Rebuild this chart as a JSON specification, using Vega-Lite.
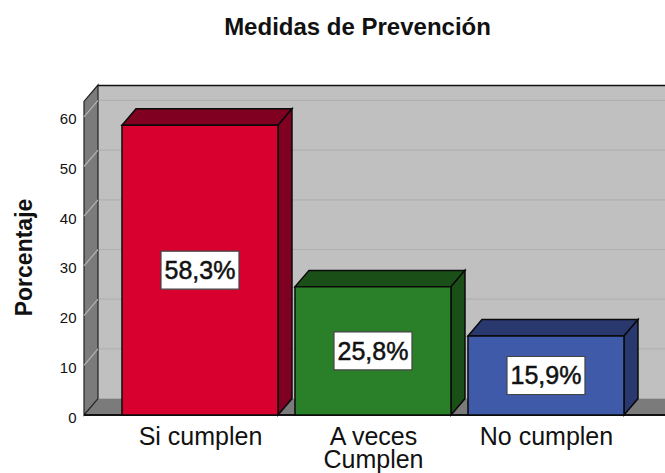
{
"$schema":"https://vega.github.io/schema/vega-lite/v6.json",
"width":581,"height":330,
"autosize":{"type":"none"},
"padding":{"left":84,"top":85,"right":0,"bottom":58},
"background":"white",
"title":{"text":"Medidas de Prevención","font":"Liberation Sans","fontSize":24,"fontWeight":"bold","color":"#111111","anchor":"middle","dx":-17,"offset":43},
"config":{"view":{"stroke":null}},
"datasets":{
"bars":[
{"categoria":"Si cumplen","pos":1,"x0":0.5491,"x1":1.4509,"porcentaje":58.3,"etiqueta":"58,3%","mitad":29.15},
{"categoria":"A veces Cumplen","pos":2,"x0":1.5491,"x1":2.4509,"porcentaje":25.8,"etiqueta":"25,8%","mitad":12.9},
{"categoria":"No cumplen","pos":3,"x0":2.5491,"x1":3.4509,"porcentaje":15.9,"etiqueta":"15,9%","mitad":7.95}
],
"caras":[
{"cara":"Si cumplen top","x":0.5491,"lo":58.3,"hi":58.3},
{"cara":"Si cumplen top","x":0.63,"lo":58.3,"hi":61.6},
{"cara":"Si cumplen top","x":1.4509,"lo":58.3,"hi":61.6},
{"cara":"Si cumplen top","x":1.5318,"lo":61.6,"hi":61.6},
{"cara":"Si cumplen side","x":1.4509,"lo":0,"hi":58.3},
{"cara":"Si cumplen side","x":1.5318,"lo":3.3,"hi":61.6},
{"cara":"A veces top","x":1.5491,"lo":25.8,"hi":25.8},
{"cara":"A veces top","x":1.63,"lo":25.8,"hi":29.1},
{"cara":"A veces top","x":2.4509,"lo":25.8,"hi":29.1},
{"cara":"A veces top","x":2.5318,"lo":29.1,"hi":29.1},
{"cara":"A veces side","x":2.4509,"lo":0,"hi":25.8},
{"cara":"A veces side","x":2.5318,"lo":3.3,"hi":29.1},
{"cara":"No cumplen top","x":2.5491,"lo":15.9,"hi":15.9},
{"cara":"No cumplen top","x":2.63,"lo":15.9,"hi":19.2},
{"cara":"No cumplen top","x":3.4509,"lo":15.9,"hi":19.2},
{"cara":"No cumplen top","x":3.5318,"lo":19.2,"hi":19.2},
{"cara":"No cumplen side","x":3.4509,"lo":0,"hi":15.9},
{"cara":"No cumplen side","x":3.5318,"lo":3.3,"hi":19.2}
],
"grid":[
{"g":10,"fondo":13.3},{"g":20,"fondo":23.3},{"g":30,"fondo":33.3},{"g":40,"fondo":43.3},{"g":50,"fondo":53.3},{"g":60,"fondo":63.3}
],
"diag":[
{"g":10,"x":0.3295,"y":10},{"g":10,"x":0.4104,"y":13.3},
{"g":20,"x":0.3295,"y":20},{"g":20,"x":0.4104,"y":23.3},
{"g":30,"x":0.3295,"y":30},{"g":30,"x":0.4104,"y":33.3},
{"g":40,"x":0.3295,"y":40},{"g":40,"x":0.4104,"y":43.3},
{"g":50,"x":0.3295,"y":50},{"g":50,"x":0.4104,"y":53.3},
{"g":60,"x":0.3295,"y":60},{"g":60,"x":0.4104,"y":63.3}
],
"pared":[{"x":0.3295,"lo":0,"hi":63.1},{"x":0.4104,"lo":3.3,"hi":66.4}],
"suelo":[{"x":0.3295,"lo":0,"hi":0},{"x":0.4104,"lo":0,"hi":3.3},{"x":3.688,"lo":0,"hi":3.3}],
"fondo":[{"x":0.4104,"x2":3.688,"lo":3.3,"hi":66.4}]
},
"layer":[
{"data":{"name":"fondo"},"mark":{"type":"rect","fill":"#c0c0c0"},
 "encoding":{
  "x":{"field":"x","type":"quantitative","scale":{"domain":[0.3295,3.688],"nice":false,"zero":false},
   "axis":{"title":null,"values":[1,2,3],"grid":false,"domain":false,"ticks":false,"labelPadding":9,"labelFont":"Liberation Sans","labelFontSize":25,"labelColor":"#111111","labelLineHeight":23,"labelBaseline":"top","labelFlush":false,"labelOverlap":false,
    "labelExpr":"datum.value==1?'Si cumplen':datum.value==2?['A veces','Cumplen']:'No cumplen'"}},
  "x2":{"field":"x2"},
  "y":{"field":"lo","type":"quantitative","scale":{"domain":[0,66.4],"nice":false},
   "axis":{"title":"Porcentaje","values":[0,10,20,30,40,50,60],"grid":false,"domain":false,"ticks":false,"labelPadding":8,"labelOffset":2,"labelFont":"Liberation Sans","labelFontSize":15,"labelColor":"#111111","titleFont":"Liberation Sans","titleFontSize":23,"titleFontWeight":"bold","titleColor":"#111111","titleX":-48,"titleY":172}},
  "y2":{"field":"hi"}}},
{"data":{"name":"grid"},"mark":{"type":"rule","stroke":"#b0b0b0","strokeWidth":1.2},
 "encoding":{"y":{"field":"fondo","type":"quantitative"},"x":{"datum":0.4104},"x2":{"datum":3.688}}},
{"data":{"name":"suelo"},"mark":{"type":"area","fill":"#7b7b7b"},
 "encoding":{"x":{"field":"x","type":"quantitative"},"y":{"field":"lo","type":"quantitative","stack":null},"y2":{"field":"hi"}}},
{"data":{"name":"pared"},"mark":{"type":"area","fill":"#7b7b7b","stroke":"#222222","strokeWidth":1.2},
 "encoding":{"x":{"field":"x","type":"quantitative"},"y":{"field":"lo","type":"quantitative","stack":null},"y2":{"field":"hi"}}},
{"data":{"name":"diag"},"mark":{"type":"line","stroke":"#b4b4b4","strokeWidth":1.2},
 "encoding":{"x":{"field":"x","type":"quantitative"},"y":{"field":"y","type":"quantitative"},"detail":{"field":"g"}}},
{"data":{"name":"grid"},"transform":[{"filter":"datum.g==60"}],"mark":{"type":"rule","stroke":"#111111","strokeWidth":1.5},
 "encoding":{"y":{"datum":66.3},"x":{"datum":0.4104},"x2":{"datum":3.688}}},
{"data":{"name":"grid"},"transform":[{"filter":"datum.g==60"}],"mark":{"type":"rule","stroke":"#111111","strokeWidth":2},
 "encoding":{"y":{"datum":0},"x":{"datum":0.3295},"x2":{"datum":3.688}}},
{"data":{"name":"caras"},"mark":{"type":"area","stroke":"#0a0a0a","strokeWidth":1.5},
 "encoding":{"x":{"field":"x","type":"quantitative"},"y":{"field":"lo","type":"quantitative","stack":null},"y2":{"field":"hi"},
  "fill":{"field":"cara","type":"nominal","legend":null,"scale":{"domain":["Si cumplen top","Si cumplen side","A veces top","A veces side","No cumplen top","No cumplen side"],"range":["#7f0020","#7f0020","#1a5018","#1a5018","#29386f","#29386f"]}}}},
{"data":{"name":"bars"},"mark":{"type":"rect","stroke":"#0a0a0a","strokeWidth":1.5},
 "encoding":{"x":{"field":"x0","type":"quantitative"},"x2":{"field":"x1"},"y":{"field":"porcentaje","type":"quantitative"},"y2":{"datum":0},
  "fill":{"field":"categoria","type":"nominal","legend":null,"scale":{"domain":["Si cumplen","A veces Cumplen","No cumplen"],"range":["#d8002f","#2a8029","#3f5aa8"]}}}},
{"data":{"name":"bars"},"mark":{"type":"rect","width":78,"height":38,"fill":"white","stroke":"#444444","strokeWidth":1.2},
 "encoding":{"x":{"field":"pos","type":"quantitative"},"y":{"field":"mitad","type":"quantitative"}}},
{"data":{"name":"bars"},"mark":{"type":"text","font":"Liberation Sans","fontSize":25,"color":"#111111","stroke":"#111111","strokeWidth":0.5,"align":"center","baseline":"middle","dy":1},
 "encoding":{"x":{"field":"pos","type":"quantitative"},"y":{"field":"mitad","type":"quantitative"},"text":{"field":"etiqueta","type":"nominal"}}}
],
"resolve":{"scale":{"fill":"independent"}}
}
